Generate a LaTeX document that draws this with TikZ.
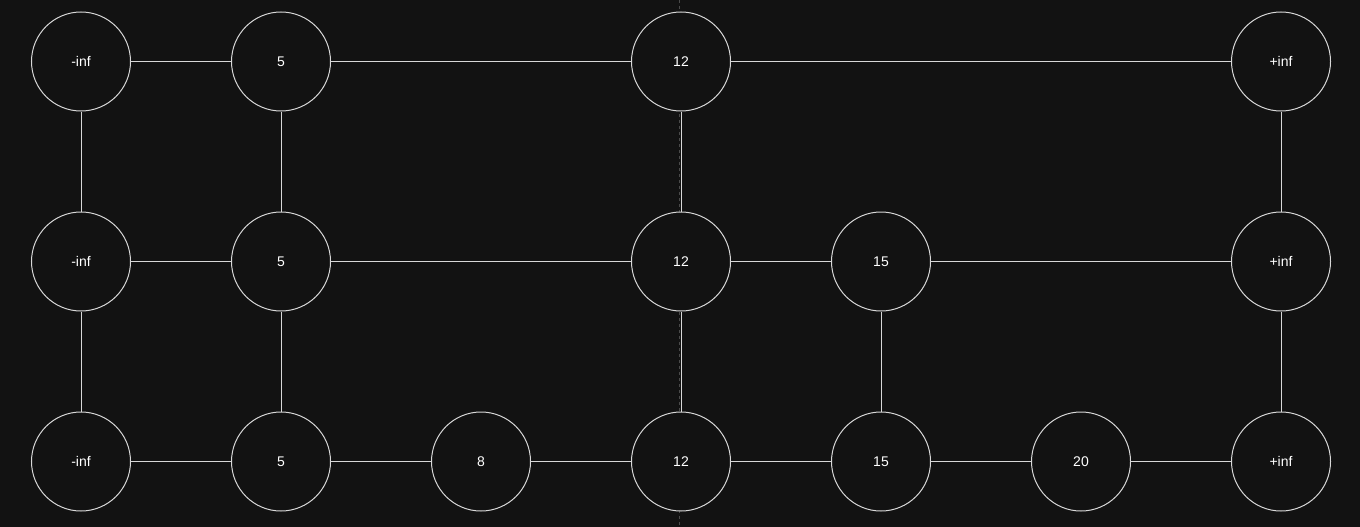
\documentclass[tikz,border=0pt]{standalone}
\usepackage{fontspec}
\setmainfont{Liberation Sans}
\definecolor{bg}{HTML}{121212}
\definecolor{fg}{HTML}{D8D8D8}
\definecolor{guide}{HTML}{4A4A4A}
\begin{document}
\begin{tikzpicture}[x=1pt,y=-1pt,
  sk/.style={circle,draw=fg,line width=1pt,fill=bg,minimum size=99pt,inner sep=0pt,
    text=white,font=\fontsize{14}{16}\selectfont},
  link/.style={draw=fg,line width=1pt}]
\fill[bg] (0,0) rectangle (1360,527);
\useasboundingbox (0,0) rectangle (1360,527);
\coordinate (gt) at (679,0);
\coordinate (gb) at (679,527);
\draw[guide,line width=1pt,dash pattern=on 3pt off 3pt] (gt) -- (gb);
% level 2 (top)
\node[sk] (a0) at (81,61.5) {-inf};
\node[sk] (a1) at (281,61.5) {5};
\node[sk] (a3) at (681,61.5) {12};
\node[sk] (a6) at (1281,61.5) {+inf};
% level 1
\node[sk] (b0) at (81,261.5) {-inf};
\node[sk] (b1) at (281,261.5) {5};
\node[sk] (b3) at (681,261.5) {12};
\node[sk] (b4) at (881,261.5) {15};
\node[sk] (b6) at (1281,261.5) {+inf};
% level 0
\node[sk] (c0) at (81,461.5) {-inf};
\node[sk] (c1) at (281,461.5) {5};
\node[sk] (c2) at (481,461.5) {8};
\node[sk] (c3) at (681,461.5) {12};
\node[sk] (c4) at (881,461.5) {15};
\node[sk] (c5) at (1081,461.5) {20};
\node[sk] (c6) at (1281,461.5) {+inf};
% horizontal links
\draw[link] (a0) -- (a1); \draw[link] (a1) -- (a3); \draw[link] (a3) -- (a6);
\draw[link] (b0) -- (b1); \draw[link] (b1) -- (b3); \draw[link] (b3) -- (b4); \draw[link] (b4) -- (b6);
\draw[link] (c0) -- (c1); \draw[link] (c1) -- (c2); \draw[link] (c2) -- (c3);
\draw[link] (c3) -- (c4); \draw[link] (c4) -- (c5); \draw[link] (c5) -- (c6);
% vertical links
\draw[link] (a0) -- (b0); \draw[link] (a1) -- (b1); \draw[link] (a3) -- (b3); \draw[link] (a6) -- (b6);
\draw[link] (b0) -- (c0); \draw[link] (b1) -- (c1); \draw[link] (b3) -- (c3); \draw[link] (b4) -- (c4); \draw[link] (b6) -- (c6);
\end{tikzpicture}
\end{document}
